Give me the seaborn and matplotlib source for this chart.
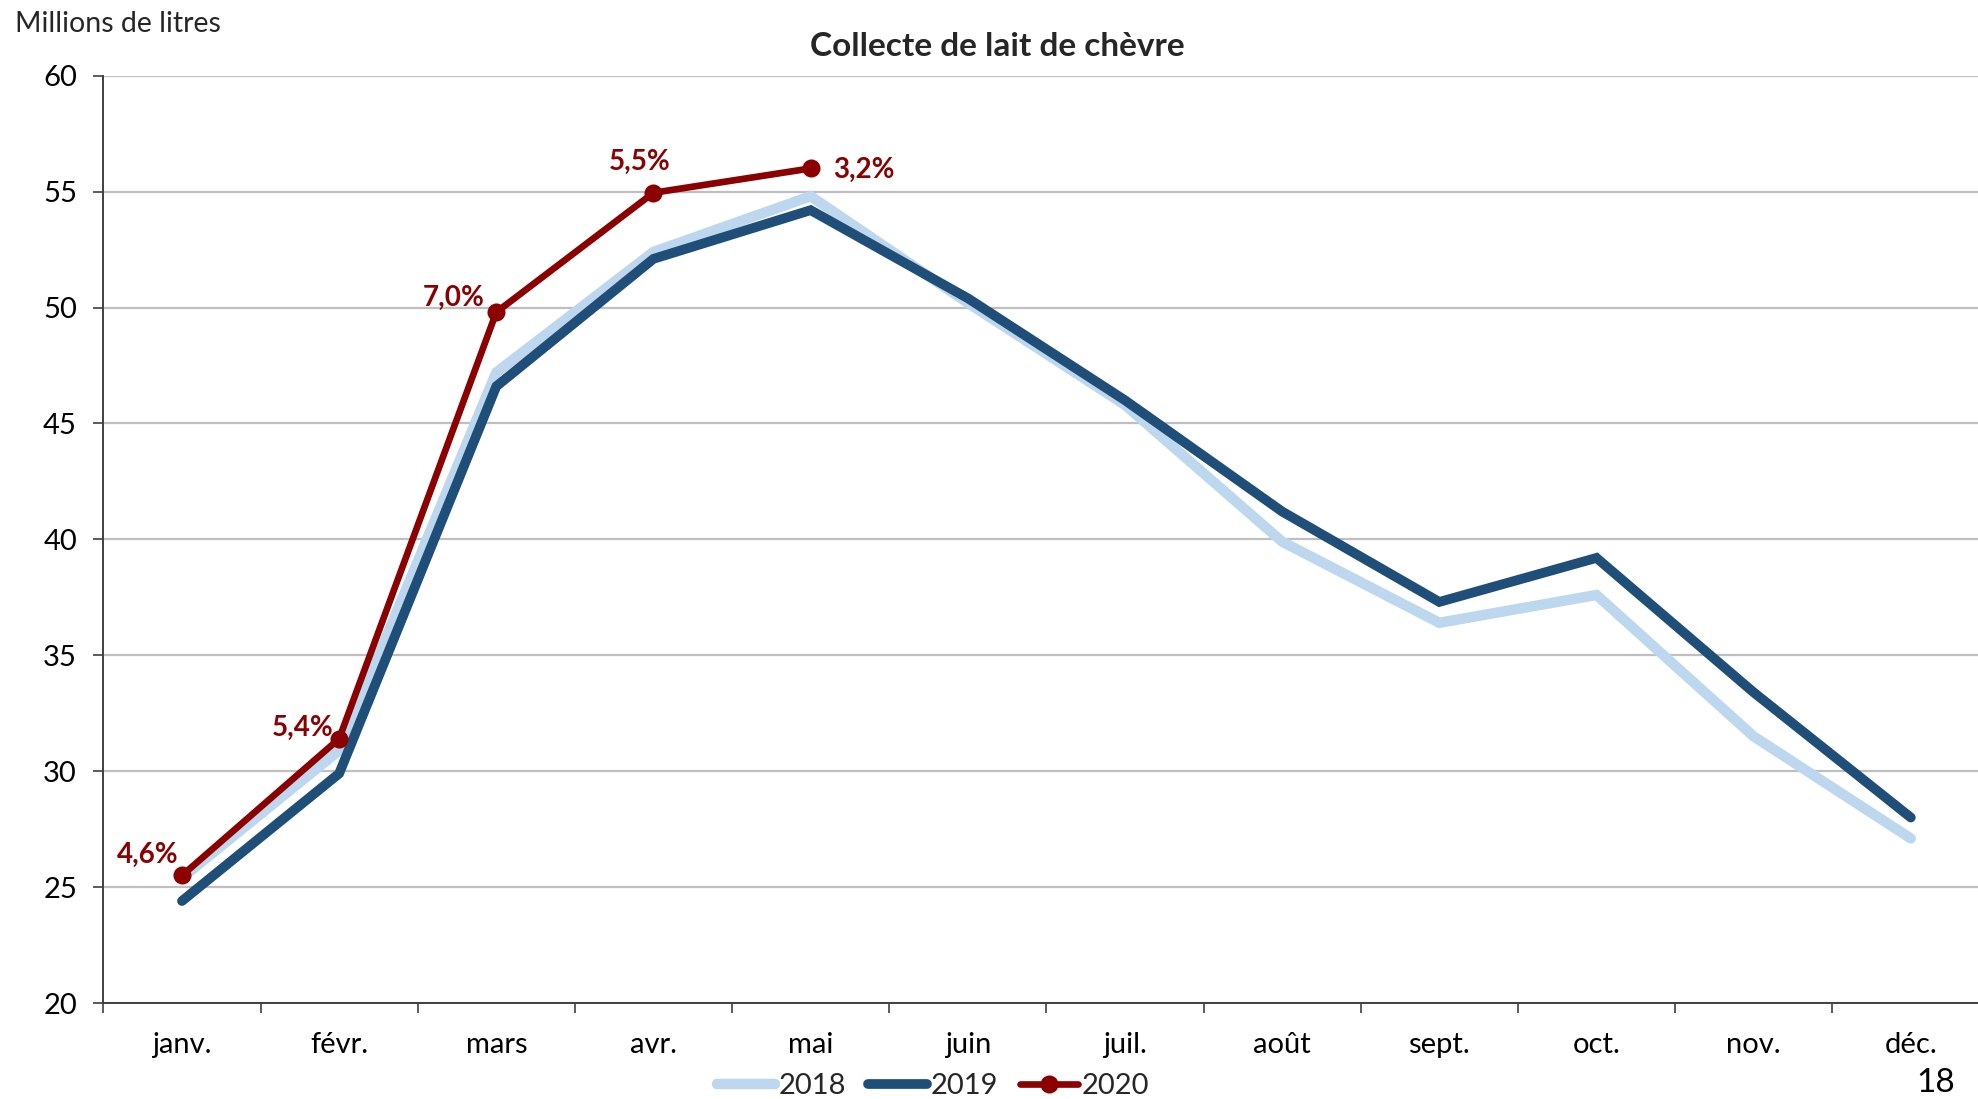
import matplotlib
matplotlib.use("Agg")
import matplotlib.pyplot as plt
import seaborn as sns
import pandas as pd
import numpy as np

months = ["janv.", "févr.", "mars", "avr.", "mai", "juin", "juil.", "août",
          "sept.", "oct.", "nov.", "déc."]
v2018 = [25.4, 30.9, 47.2, 52.4, 54.8, 50.2, 45.8, 39.9, 36.4, 37.6, 31.5, 27.1]
v2019 = [24.4, 29.9, 46.6, 52.1, 54.2, 50.4, 46.0, 41.2, 37.3, 39.2, 33.4, 28.0]
v2020 = [25.5, 31.4, 49.8, 54.95, 56.0]
labels2020 = ["4,6%", "5,4%", "7,0%", "5,5%", "3,2%"]
label_offsets = [(-25, 15), (-26, 8), (-31, 10), (-10, 22), (38, -1)]

sns.set_theme(style="white")
plt.rcParams['font.family'] = ['Lato', 'DejaVu Sans']

W, H = 1978, 1099
fig = plt.figure(figsize=(W / 100, H / 100), dpi=100)
ax = fig.add_axes([103.4 / W, 1 - 1003 / H, 1886 / W, (1003 - 75.7) / H])

df18 = pd.DataFrame({"x": np.arange(12), "y": v2018})
df19 = pd.DataFrame({"x": np.arange(12), "y": v2019})
df20 = pd.DataFrame({"x": np.arange(len(v2020)), "y": v2020})

c18, c19, c20 = "#BDD7EE", "#1F4E79", "#8B0000"

sns.lineplot(data=df18, x="x", y="y", ax=ax, color=c18, linewidth=7.5,
             solid_capstyle="round", solid_joinstyle="miter", label="2018", zorder=3)
sns.lineplot(data=df19, x="x", y="y", ax=ax, color=c19, linewidth=7,
             solid_capstyle="round", solid_joinstyle="miter", label="2019", zorder=4)
sns.lineplot(data=df20, x="x", y="y", ax=ax, color=c20, linewidth=4.8,
             marker="o", markersize=13, markeredgewidth=0,
             solid_capstyle="round", label="2020", zorder=5)

for i, (val, lab) in enumerate(zip(v2020, labels2020)):
    ax.annotate(lab, xy=(i, val), xytext=label_offsets[i], textcoords="offset points",
                ha="center", va="center", fontsize=20, fontweight="bold", color=c20,
                zorder=6)

ax.set_xlim(-0.5, 11.5)
ax.set_ylim(20, 60)
ax.set_yticks(range(20, 61, 5))
ax.set_xticks(range(12))
ax.set_xticklabels(months)
ax.set_xticks(np.arange(-0.5, 12, 1), minor=True)
ax.tick_params(axis="x", which="major", length=0, pad=21, labelsize=21, colors="black")
ax.tick_params(axis="x", which="minor", length=7, width=1.2, color="#404040", direction="out", bottom=True)
ax.tick_params(axis="y", which="major", length=7, width=1.2, color="#404040", direction="out",
               left=True, pad=12, labelsize=21, labelcolor="black")
ax.set_xlabel("")
ax.set_ylabel("")
ax.grid(axis="y", color="#BFBFBF", linewidth=1.6)
ax.grid(axis="x", visible=False)
ax.set_axisbelow(True)
for s in ["top", "right"]:
    ax.spines[s].set_visible(False)
for s in ["left", "bottom"]:
    ax.spines[s].set_color("#404040")
    ax.spines[s].set_linewidth(1.4)

ax.set_title("Collecte de lait de chèvre", fontsize=24, fontweight="bold", pad=14, x=(997 - 103.4) / 1886)
fig.text(15 / W, 1 - 24 / H, "Millions de litres", fontsize=20.5, ha="left", va="center")

ax.legend_.remove() if ax.legend_ else None
handles, labs = ax.get_legend_handles_labels()
fig.legend(handles, labs, loc="center", bbox_to_anchor=(933 / W, 1 - 1086 / H), ncol=3,
           frameon=False, fontsize=21, handlelength=2.0, handletextpad=0.12,
           columnspacing=0.75, borderaxespad=0)

fig.text(1936 / W, 1 / H, "18", fontsize=24, ha="center", va="bottom", color="black")

fig.savefig("out.png", dpi=100)
